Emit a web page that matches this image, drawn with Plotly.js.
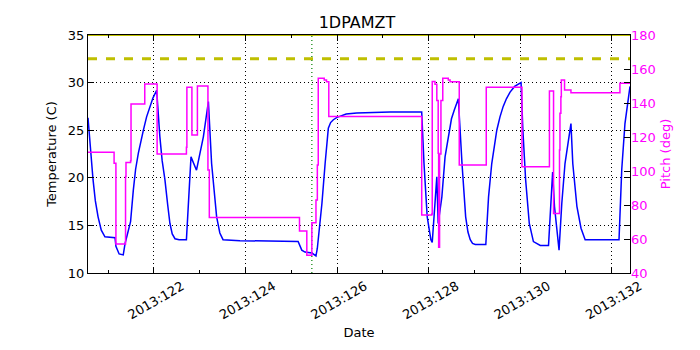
<!DOCTYPE html>
<html>
<head>
<meta charset="utf-8">
<script src="https://cdn.plot.ly/plotly-3.0.0.min.js"></script>
<style>
  body{margin:0;background:#fff;}
  #grafica{width:700px;height:350px;}
</style>
</head>
<body>
<div id="grafica"></div>
<script>
// dias del año 2013 (fraccion) y temperatura 1DPAMZT
const diasTemp=[120.56,120.62,120.67,120.72,120.78,120.85,120.93,121.15,121.17,121.24,121.33,121.37,121.44,121.49,121.55,121.60,121.66,121.72,121.77,
  121.84,121.91,121.98,122.06,122.09,122.13,122.18,122.24,122.30,122.35,122.40,122.46,122.55,122.71,122.81,122.93,123.08,123.19,123.26,123.37,
  123.44,123.51,123.88,125.15,125.23,125.30,125.45,125.54,125.57,125.67,125.74,125.81,125.86,125.92,126.00,126.07,126.20,126.43,127.16,127.85,
  127.90,127.97,128.05,128.08,128.13,128.18,128.21,128.29,128.36,128.45,128.50,128.56,128.65,128.73,128.77,128.81,128.86,128.91,128.96,129.02,
  129.25,129.31,129.38,129.49,129.56,129.63,129.70,129.78,129.88,129.99,130.02,130.06,130.12,130.20,130.29,130.44,130.62,130.71,130.75,130.80,
  130.85,130.91,130.98,131.11,131.15,131.24,131.33,131.42,132.16,132.22,132.29,132.40];
const temperatura=[26.3,22.4,19.8,17.6,15.9,14.5,13.8,13.7,12.8,12.0,11.9,13.1,14.5,15.4,18.7,20.9,22.6,24.0,25.0,
  26.4,27.5,28.4,29.2,27.0,24.3,21.8,19.8,17.2,15.2,14.1,13.6,13.5,13.5,22.2,20.8,24.3,28.0,21.5,15.9,
  14.2,13.5,13.4,13.3,12.4,12.2,12.1,11.8,12.6,17.3,21.5,25.2,25.8,26.1,26.35,26.5,26.7,26.8,26.9,26.9,
  21.5,15.9,13.5,13.2,17.3,20.1,15.2,18.0,22.2,25.0,26.2,27.1,28.3,21.5,18.5,15.9,14.3,13.5,13.1,13.0,
  13.0,18.0,21.5,25.0,26.4,27.5,28.3,29.0,29.6,29.9,30.0,25.0,19.8,15.2,13.3,12.9,12.9,20.6,17.0,14.7,
  12.4,17.3,21.5,25.7,21.5,17.0,14.7,13.5,13.5,20.9,25.7,29.6];

// pitch (escalones)
const diasPitch=[120.56,121.13,121.17,121.38,121.39,121.49,121.50,121.80,122.07,122.71,122.72,122.83,122.95,123.18,123.21,125.18,125.34,125.45,
  125.54,125.57,125.59,125.72,125.77,125.82,127.85,128.07,128.08,128.14,128.18,128.21,128.22,128.24,128.27,128.31,128.43,128.47,128.67,129.26,
  130.04,130.64,130.73,130.86,130.87,130.89,130.90,130.97,131.11,132.18,132.40];
const pitch=[111,104.5,57,96.7,105,106,139.4,151.2,110,114,149.2,121.2,150,100.6,72.7,64.7,50.4,69.6,
  82.9,103.5,154.5,153.5,152.5,132,74.1,74.7,152.6,151,141.4,110.4,55.1,110,141.4,154.5,153.5,152.5,103.5,149.2,
  102.5,147,75,112.4,134,143.7,153.5,147.6,146.1,151.6,151.6];

const rangoDias=[120.56,132.40];
const limiteSup=[35,35];
const limitePlan=[32.5,32.5];
const diaMarca=[125.45,125.45];
const rangoTemp=[10,35];

const ejeBase={
  showline:true,linecolor:"black",linewidth:1,mirror:"ticks",
  ticks:"inside",ticklen:6,tickcolor:"black",
  showgrid:true,gridcolor:"black",griddash:"1px,3px",gridwidth:1,
  zeroline:false,tickfont:{size:13,color:"black"}
};

let datos=[
  {x:rangoDias,y:limiteSup,mode:"lines",line:{color:"#bfbf00",width:2},hoverinfo:"skip"},
  {x:rangoDias,y:limitePlan,mode:"lines",line:{color:"#bfbf00",width:3,dash:"dash"},hoverinfo:"skip"},
  {x:diaMarca,y:rangoTemp,mode:"lines",line:{color:"green",width:1.2,dash:"1px,3px"},hoverinfo:"skip"},
  {x:diasTemp,y:temperatura,mode:"lines",name:"1DPAMZT",line:{color:"blue",width:1.5}},
  {x:diasPitch,y:pitch,mode:"lines",name:"Pitch",yaxis:"y2",line:{color:"magenta",width:1.5,shape:"hv"}}
];

let layout={
  width:700,height:350,
  margin:{l:88,r:70,t:35,b:77},
  paper_bgcolor:"white",plot_bgcolor:"white",
  showlegend:false,
  font:{family:"DejaVu Sans",color:"black"},
  title:{text:"1DPAMZT",font:{size:16},x:0.51,xanchor:"center",y:0.937,yref:"container",yanchor:"middle"},
  xaxis:Object.assign({},ejeBase,{
    range:rangoDias,tickmode:"linear",tick0:122,dtick:2,tickprefix:"2013:",tickangle:-30,
    ticklabelshift:28,ticklabelstandoff:0,
    minor:{tick0:122,dtick:1,ticks:"inside",ticklen:3,tickcolor:"black",showgrid:false},
    title:{text:"Date",font:{size:13},standoff:6}
  }),
  yaxis:Object.assign({},ejeBase,{
    range:rangoTemp,tickmode:"linear",tick0:10,dtick:5,
    title:{text:"Temperature (C)",font:{size:13},standoff:8}
  }),
  yaxis2:{
    overlaying:"y",side:"right",range:[40,180],tickmode:"linear",tick0:40,dtick:20,
    showgrid:false,zeroline:false,ticks:"inside",ticklen:6,tickcolor:"black",
    tickfont:{size:13,color:"magenta"},
    title:{text:"Pitch (deg)",font:{size:13,color:"magenta"},standoff:6}
  }
};

Plotly.newPlot("grafica",datos,layout,{displayModeBar:false,staticPlot:true});
</script>
</body>
</html>
